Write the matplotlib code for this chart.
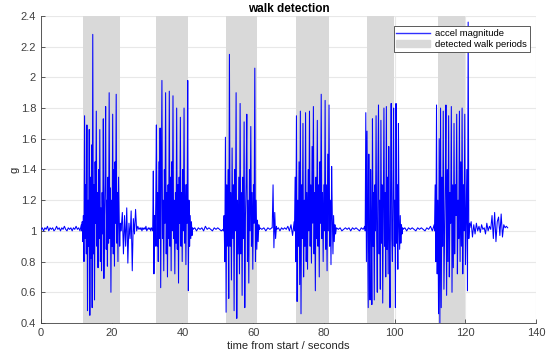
import numpy as np
import matplotlib
matplotlib.use('Agg')
import matplotlib.pyplot as plt
from matplotlib.patches import Patch
from matplotlib.lines import Line2D

# detected walk periods (seconds)
walk_start = [11.9, 32.4, 52.2, 72.0, 92.2, 112.2]
walk_end = [22.3, 41.7, 61.0, 81.6, 99.9, 120.0]

# accel magnitude: (t0, t1, values)
quiet0 = [1.01, 1.02, 1.00, 1.02, 1.01, 1.03, 1.00, 1.02, 1.01, 1.02, 1.00, 1.01,
          1.03, 1.01, 1.02, 1.00, 1.02, 1.01, 1.03, 1.01, 1.00, 1.02, 1.01, 1.02,
          1.00, 1.02, 1.01, 1.03, 1.01, 1.02, 1.00, 1.04]
burst1 = [1.00, 1.06, 0.93, 1.10, 0.80, 1.75, 0.95, 1.30, 0.85, 1.69, 0.48, 1.20,
          0.90, 1.66, 0.45, 1.35, 0.82, 1.56, 0.50, 2.28, 0.85, 1.30, 0.55, 1.45,
          1.05, 1.78, 0.90, 1.25, 0.76, 1.40, 0.95, 1.66, 0.80, 1.15, 0.74, 1.25,
          0.98, 1.73, 0.69, 1.10, 1.30, 1.81, 0.88, 1.20, 0.77, 1.35, 0.92, 1.90,
          0.95, 1.28, 0.60, 1.20, 0.90, 1.76, 0.85, 1.40, 0.77, 1.45, 1.05, 1.89,
          0.92, 1.25, 0.80, 1.35, 1.10, 0.90, 1.05, 1.00]
post1 = [1.02, 1.12, 0.85, 1.10, 0.90, 1.15, 0.79, 1.05, 0.95, 1.13, 0.74, 1.08,
         0.98, 1.14, 1.00, 1.03, 1.01, 1.02]
quiet1 = [1.01, 1.02, 1.00, 1.02, 1.01, 1.02, 1.01, 1.03, 1.00, 1.01, 1.02, 1.01,
          1.02, 1.00, 1.02, 1.01]
burst2 = [1.00, 1.39, 0.72, 1.10, 0.90, 1.20, 1.69, 0.90, 1.25, 0.80, 1.45, 0.95,
          1.67, 0.63, 1.30, 1.98, 0.95, 1.20, 0.74, 1.40, 1.05, 1.90, 0.85, 1.25,
          0.70, 1.30, 0.95, 1.91, 0.90, 1.35, 0.74, 1.45, 1.00, 1.88, 0.95, 1.20,
          0.72, 1.25, 0.92, 1.80, 0.88, 1.30, 0.66, 1.35, 1.05, 1.74, 0.90, 1.25,
          0.80, 1.40, 1.00, 1.80, 0.92, 1.30, 0.78, 1.30, 1.05, 1.98, 0.61, 1.20,
          0.90, 1.10, 0.95, 1.06, 0.97, 1.02]
quiet2 = [1.01, 1.02, 1.00, 1.02, 1.01, 1.02, 1.00, 1.03, 1.01, 1.02, 1.01, 1.00,
          1.02, 1.01, 1.02, 1.01, 1.00, 1.01]
burst3 = [1.00, 1.10, 0.80, 1.61, 0.47, 1.30, 0.90, 1.40, 0.56, 2.15, 0.90, 1.25,
          0.68, 1.54, 0.95, 1.30, 0.48, 1.40, 1.00, 1.90, 0.43, 1.20, 0.85, 1.35,
          0.72, 1.83, 0.85, 1.25, 0.58, 1.35, 0.95, 1.71, 0.50, 1.10, 1.30, 1.76,
          0.80, 1.20, 0.66, 1.40, 1.00, 1.68, 0.90, 1.25, 0.75, 1.30, 1.05, 2.06,
          0.80, 1.20, 0.88, 1.07, 0.93, 1.04, 1.01]
quiet3 = [1.02, 1.01, 1.02, 1.00, 1.02, 1.01, 1.02]
blip3 = [1.02, 1.30, 0.89, 1.12, 0.95, 1.03]
quiet3b = [1.01, 1.02, 1.00, 1.02, 1.01, 1.02, 1.01, 1.03, 1.00, 1.04, 0.97, 1.06]
burst4 = [1.00, 1.35, 0.80, 1.75, 0.54, 1.20, 0.90, 1.45, 0.65, 1.78, 0.46, 1.30,
          0.95, 1.70, 0.70, 1.20, 0.90, 1.77, 0.80, 1.25, 0.75, 1.40, 1.00, 1.78,
          0.90, 1.30, 0.79, 1.55, 1.05, 1.81, 0.85, 1.25, 0.61, 1.35, 0.95, 1.72,
          0.90, 1.30, 0.70, 1.45, 1.05, 1.89, 0.95, 1.25, 0.80, 1.30, 1.00, 1.85,
          0.88, 1.30, 0.74, 1.50, 1.00, 1.82, 0.90, 1.20, 0.78, 1.42, 1.10, 0.85,
          1.10, 0.93, 1.04, 0.98, 1.01]
quiet4 = [1.02, 1.01, 1.02, 1.00, 1.01, 1.02, 1.01, 1.02, 1.00, 1.02, 1.01, 1.02,
          1.01, 1.00, 1.02, 1.01, 1.03]
burst5 = [1.00, 1.77, 0.80, 1.65, 1.10, 0.50, 1.50, 0.90, 0.55, 1.40, 1.05, 0.52,
          1.73, 0.90, 1.25, 0.55, 1.30, 1.00, 1.75, 0.95, 0.60, 1.35, 1.82, 0.85,
          1.20, 0.62, 1.72, 0.92, 1.30, 0.53, 1.15, 1.80, 0.90, 1.25, 0.70, 1.81,
          0.88, 1.35, 0.72, 1.55, 0.95, 0.50, 1.30, 1.83, 0.95, 0.80, 1.25, 1.80,
          0.90, 1.20, 0.50, 1.83, 0.92, 1.30, 0.75, 1.70, 1.05, 0.88, 1.10, 0.92,
          1.04, 0.98, 1.02]
quiet5 = [1.01, 1.02, 1.00, 1.02, 1.01, 1.02, 1.01, 1.00, 1.02, 1.01, 1.02, 1.01,
          1.00, 1.02, 1.01, 1.03, 1.00, 1.04]
burst6 = [1.00, 1.30, 0.80, 1.82, 0.72, 1.20, 0.46, 1.60, 0.40, 1.80, 0.50, 1.35,
          0.90, 1.78, 0.62, 0.95, 1.30, 1.82, 0.58, 1.40, 0.80, 1.75, 0.70, 1.25,
          1.05, 1.81, 0.60, 1.30, 0.76, 1.70, 0.85, 1.30, 1.10, 1.76, 0.72, 1.20,
          0.95, 1.78, 0.80, 1.45, 0.90, 1.80, 0.72, 1.30, 1.00, 1.76, 0.78, 1.10,
          1.40, 0.61, 2.36, 0.95, 1.05]
post6 = [1.02, 1.06, 0.96, 1.04, 0.98, 1.05, 1.00, 1.03, 0.99, 1.04, 1.01, 1.02,
         0.98, 1.05, 1.00, 1.03, 1.01, 1.10, 0.95, 1.12, 0.93, 1.06, 1.09, 0.97,
         1.11, 0.96, 1.04, 1.02, 1.03, 1.02]

segments = [
    (0.0, 11.4, quiet0), (11.5, 22.6, burst1), (22.7, 28.0, post1),
    (28.1, 31.5, quiet1), (31.6, 42.9, burst2), (43.0, 51.5, quiet2),
    (51.6, 61.8, burst3), (61.9, 65.3, quiet3), (65.4, 66.6, blip3),
    (66.7, 71.6, quiet3b), (71.7, 83.5, burst4), (83.6, 91.6, quiet4),
    (91.7, 102.3, burst5), (102.4, 111.2, quiet5), (111.3, 121.2, burst6),
    (121.3, 132.0, post6),
]

t = np.concatenate([np.linspace(a, b, len(v)) for a, b, v in segments])
g = np.concatenate([v for a, b, v in segments])

plt.rcParams['font.family'] = ['Liberation Sans', 'DejaVu Sans']
fig = plt.figure(figsize=(5.5, 3.56), dpi=100)
ax = fig.add_axes([0.0745, 0.0927, 0.9, 0.8625])

for a, b in zip(walk_start, walk_end):
    ax.axvspan(a, b, color='#d9d9d9', lw=0, zorder=1)
ax.plot(t, g, color='#0000ff', lw=0.75, zorder=3)

ax.set_xlim(0, 140)
ax.set_ylim(0.4, 2.4)
ax.set_xticks(np.arange(0, 141, 20))
ax.set_yticks(np.arange(0.4, 2.41, 0.2))
ax.set_yticklabels(['0.4', '0.6', '0.8', '1', '1.2', '1.4', '1.6', '1.8', '2', '2.2', '2.4'])
ax.grid(True, color='#e8e8e8', lw=0.8, zorder=0)
ax.set_axisbelow(True)
for s in ['top', 'right']:
    ax.spines[s].set_visible(False)
for s in ['left', 'bottom']:
    ax.spines[s].set_color('#404040')
    ax.spines[s].set_linewidth(0.6)
ax.tick_params(direction='in', length=3, width=0.6, colors='#404040', labelsize=8)
ax.set_xlabel('time from start / seconds', fontsize=8, color='#262626', labelpad=2)
ax.set_ylabel('g', fontsize=8, color='#262626', labelpad=1)
ax.set_title('walk detection', fontsize=8.5, fontweight='bold', pad=3)

handles = [Line2D([0], [0], color='#3030ff', lw=1.0), Patch(color='#d9d9d9')]
leg = ax.legend(handles, ['accel magnitude', 'detected walk periods'],
                loc='upper right', bbox_to_anchor=(0.997, 0.982), fontsize=6.8,
                fancybox=False, framealpha=1, edgecolor='#404040',
                handlelength=3.6, borderpad=0.3, labelspacing=0.2, handletextpad=0.5)
leg.get_frame().set_linewidth(0.6)

fig.savefig('out.png', dpi=100)
